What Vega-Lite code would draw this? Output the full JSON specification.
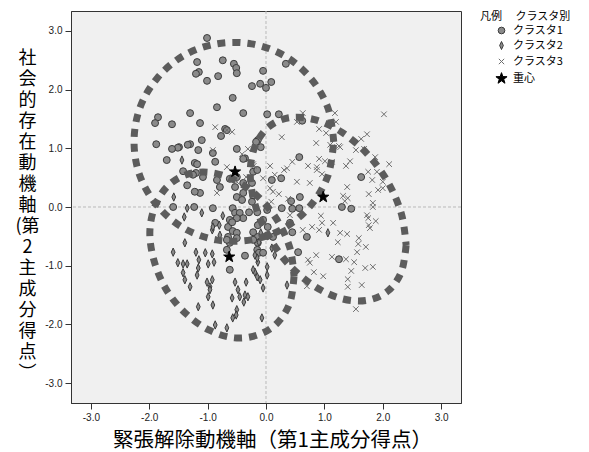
{
"$schema": "https://vega.github.io/schema/vega-lite/v6.json",
"width": 390, "height": 392,
"autosize": "none",
"padding": {"left": 71, "top": 11, "right": 128, "bottom": 49},
"background": "white",
"datasets": {
"points": [
{"c":"クラスタ1","x":-1.01,"y":2.88},{"c":"クラスタ1","x":-1.18,"y":2.47},{"c":"クラスタ1","x":-0.74,"y":2.50},{"c":"クラスタ1","x":-0.55,"y":2.44},{"c":"クラスタ1","x":-0.51,"y":2.37},{"c":"クラスタ1","x":-0.50,"y":2.28},{"c":"クラスタ1","x":-1.15,"y":2.30},{"c":"クラスタ1","x":-1.20,"y":2.27},{"c":"クラスタ1","x":-0.82,"y":2.23},{"c":"クラスタ1","x":-1.01,"y":2.15},{"c":"クラスタ1","x":-0.05,"y":2.32},{"c":"クラスタ1","x":0.34,"y":2.44},{"c":"クラスタ1","x":-0.24,"y":2.06},{"c":"クラスタ1","x":-0.10,"y":2.10},{"c":"クラスタ1","x":0.00,"y":2.03},{"c":"クラスタ1","x":0.09,"y":2.13},{"c":"クラスタ1","x":-0.57,"y":1.86},{"c":"クラスタ1","x":-0.84,"y":1.70},{"c":"クラスタ1","x":-0.39,"y":1.60},{"c":"クラスタ1","x":0.02,"y":1.58},{"c":"クラスタ1","x":0.22,"y":1.58},{"c":"クラスタ1","x":-1.30,"y":1.60},{"c":"クラスタ1","x":-1.85,"y":1.53},{"c":"クラスタ1","x":-1.90,"y":1.43},{"c":"クラスタ1","x":-1.61,"y":1.41},{"c":"クラスタ1","x":-1.13,"y":1.43},{"c":"クラスタ1","x":-0.70,"y":1.33},{"c":"クラスタ1","x":-0.67,"y":1.31},{"c":"クラスタ1","x":-0.77,"y":1.21},{"c":"クラスタ1","x":-1.10,"y":1.14},{"c":"クラスタ1","x":-1.30,"y":1.07},{"c":"クラスタ1","x":-1.34,"y":1.06},{"c":"クラスタ1","x":-1.49,"y":1.02},{"c":"クラスタ1","x":-1.51,"y":1.01},{"c":"クラスタ1","x":-1.61,"y":0.99},{"c":"クラスタ1","x":-1.16,"y":0.97},{"c":"クラスタ1","x":-1.88,"y":1.07},{"c":"クラスタ1","x":-0.50,"y":0.99},{"c":"クラスタ1","x":-0.14,"y":1.14},{"c":"クラスタ1","x":-0.09,"y":1.02},{"c":"クラスタ1","x":0.62,"y":1.47},{"c":"クラスタ1","x":0.57,"y":0.85},{"c":"クラスタ1","x":-0.36,"y":0.83},{"c":"クラスタ1","x":-1.70,"y":0.80},{"c":"クラスタ1","x":-1.42,"y":0.61},{"c":"クラスタ1","x":-1.22,"y":0.75},{"c":"クラスタ1","x":-1.18,"y":0.73},{"c":"クラスタ1","x":-0.87,"y":0.77},{"c":"クラスタ1","x":-1.20,"y":0.58},{"c":"クラスタ1","x":-1.08,"y":0.51},{"c":"クラスタ1","x":-0.84,"y":0.46},{"c":"クラスタ1","x":-0.79,"y":0.34},{"c":"クラスタ1","x":-1.13,"y":0.24},{"c":"クラスタ1","x":-0.53,"y":0.34},{"c":"クラスタ1","x":-0.39,"y":0.41},{"c":"クラスタ1","x":-0.24,"y":0.41},{"c":"クラスタ1","x":-0.50,"y":0.17},{"c":"クラスタ1","x":-0.41,"y":0.12},{"c":"クラスタ1","x":-0.24,"y":0.09},{"c":"クラスタ1","x":-0.22,"y":0.20},{"c":"クラスタ1","x":-0.91,"y":0.92},{"c":"クラスタ1","x":-0.17,"y":1.11},{"c":"クラスタ1","x":-1.59,"y":0.00},{"c":"クラスタ1","x":-1.23,"y":0.00},{"c":"クラスタ1","x":-0.91,"y":-0.02},{"c":"クラスタ1","x":-0.57,"y":-0.02},{"c":"クラスタ1","x":-1.25,"y":0.55},{"c":"クラスタ1","x":-1.35,"y":0.37},{"c":"クラスタ1","x":-1.22,"y":0.26},{"c":"クラスタ1","x":-0.62,"y":0.48},{"c":"クラスタ1","x":-0.50,"y":0.51},{"c":"クラスタ1","x":-0.22,"y":0.60},{"c":"クラスタ1","x":-0.15,"y":0.63},{"c":"クラスタ1","x":-0.39,"y":0.24},{"c":"クラスタ1","x":-0.53,"y":-0.10},{"c":"クラスタ1","x":-0.45,"y":-0.10},{"c":"クラスタ1","x":-0.29,"y":-0.09},{"c":"クラスタ1","x":-0.15,"y":-0.09},{"c":"クラスタ1","x":0.02,"y":-0.05},{"c":"クラスタ1","x":-0.62,"y":-0.22},{"c":"クラスタ1","x":-0.65,"y":-0.34},{"c":"クラスタ1","x":-0.57,"y":-0.41},{"c":"クラスタ1","x":-0.50,"y":-0.44},{"c":"クラスタ1","x":-0.65,"y":-0.51},{"c":"クラスタ1","x":-0.62,"y":-0.61},{"c":"クラスタ1","x":-0.67,"y":-0.73},{"c":"クラスタ1","x":-0.36,"y":-0.83},{"c":"クラスタ1","x":-0.62,"y":-1.07},{"c":"クラスタ1","x":-0.15,"y":-0.51},{"c":"クラスタ1","x":-0.14,"y":-0.61},{"c":"クラスタ1","x":-0.15,"y":-0.73},{"c":"クラスタ1","x":-0.12,"y":-0.78},{"c":"クラスタ1","x":-0.05,"y":-0.78},{"c":"クラスタ1","x":0.03,"y":-0.49},{"c":"クラスタ1","x":0.12,"y":-0.51},{"c":"クラスタ1","x":0.27,"y":-0.02},{"c":"クラスタ1","x":0.45,"y":-0.03},{"c":"クラスタ1","x":0.41,"y":-0.27},{"c":"クラスタ1","x":0.45,"y":-0.43},{"c":"クラスタ1","x":0.55,"y":-0.77},{"c":"クラスタ1","x":0.58,"y":0.17},{"c":"クラスタ1","x":0.03,"y":-0.34},{"c":"クラスタ1","x":-0.10,"y":-0.27},{"c":"クラスタ1","x":-0.87,"y":-0.27},{"c":"クラスタ1","x":-0.39,"y":-0.19},{"c":"クラスタ1","x":-0.50,"y":-0.19},{"c":"クラスタ1","x":-0.58,"y":-0.26},{"c":"クラスタ1","x":-0.05,"y":-0.22},{"c":"クラスタ1","x":-0.22,"y":-0.43},{"c":"クラスタ1","x":-0.67,"y":-0.56},{"c":"クラスタ1","x":-0.50,"y":-0.53},{"c":"クラスタ1","x":-0.22,"y":-0.56},{"c":"クラスタ1","x":-0.14,"y":-0.31},{"c":"クラスタ1","x":0.10,"y":0.46},{"c":"クラスタ1","x":0.26,"y":0.49},{"c":"クラスタ1","x":0.43,"y":0.10},{"c":"クラスタ1","x":0.57,"y":-0.02},{"c":"クラスタ1","x":1.30,"y":0.00},{"c":"クラスタ1","x":1.46,"y":-0.03},{"c":"クラスタ1","x":1.63,"y":0.51},{"c":"クラスタ1","x":0.70,"y":-0.51},{"c":"クラスタ1","x":1.25,"y":-0.89},{"c":"クラスタ1","x":-0.39,"y":0.82},
{"c":"クラスタ2","x":-1.44,"y":0.80},{"c":"クラスタ2","x":-1.58,"y":0.17},{"c":"クラスタ2","x":-1.35,"y":-0.02},{"c":"クラスタ2","x":-1.10,"y":-0.10},{"c":"クラスタ2","x":-1.40,"y":-0.17},{"c":"クラスタ2","x":-0.74,"y":-0.15},{"c":"クラスタ2","x":-0.80,"y":-0.31},{"c":"クラスタ2","x":-0.92,"y":-0.39},{"c":"クラスタ2","x":-0.79,"y":-0.48},{"c":"クラスタ2","x":-1.39,"y":-0.61},{"c":"クラスタ2","x":-1.59,"y":-0.77},{"c":"クラスタ2","x":-1.20,"y":-0.77},{"c":"クラスタ2","x":-1.04,"y":-0.78},{"c":"クラスタ2","x":-0.92,"y":-0.80},{"c":"クラスタ2","x":-1.51,"y":-0.95},{"c":"クラスタ2","x":-1.42,"y":-0.97},{"c":"クラスタ2","x":-1.35,"y":-0.97},{"c":"クラスタ2","x":-1.15,"y":-0.90},{"c":"クラスタ2","x":-0.99,"y":-0.97},{"c":"クラスタ2","x":-0.89,"y":-0.94},{"c":"クラスタ2","x":-1.16,"y":-1.04},{"c":"クラスタ2","x":-1.18,"y":-1.16},{"c":"クラスタ2","x":-1.39,"y":-1.24},{"c":"クラスタ2","x":-1.42,"y":-1.12},{"c":"クラスタ2","x":-1.30,"y":-1.36},{"c":"クラスタ2","x":-1.01,"y":-1.28},{"c":"クラスタ2","x":-0.96,"y":-1.36},{"c":"クラスタ2","x":-0.92,"y":-1.24},{"c":"クラスタ2","x":-0.99,"y":-1.53},{"c":"クラスタ2","x":-0.96,"y":-1.41},{"c":"クラスタ2","x":-0.91,"y":-1.67},{"c":"クラスタ2","x":-1.16,"y":-1.70},{"c":"クラスタ2","x":-0.53,"y":-1.28},{"c":"クラスタ2","x":-0.48,"y":-1.41},{"c":"クラスタ2","x":-0.34,"y":-1.28},{"c":"クラスタ2","x":-0.45,"y":-1.53},{"c":"クラスタ2","x":-0.36,"y":-1.50},{"c":"クラスタ2","x":-0.31,"y":-1.53},{"c":"クラスタ2","x":-0.58,"y":-1.55},{"c":"クラスタ2","x":-0.38,"y":-1.62},{"c":"クラスタ2","x":-0.50,"y":-1.75},{"c":"クラスタ2","x":-0.51,"y":-1.84},{"c":"クラスタ2","x":-0.57,"y":-1.89},{"c":"クラスタ2","x":-0.87,"y":-2.01},{"c":"クラスタ2","x":-0.67,"y":-2.06},{"c":"クラスタ2","x":-0.07,"y":-1.89},{"c":"クラスタ2","x":-0.19,"y":-1.11},{"c":"クラスタ2","x":-0.15,"y":-1.19},{"c":"クラスタ2","x":-0.10,"y":-1.24},{"c":"クラスタ2","x":-0.05,"y":-1.38},{"c":"クラスタ2","x":0.02,"y":-1.16},{"c":"クラスタ2","x":0.02,"y":-1.02},{"c":"クラスタ2","x":-0.14,"y":-0.94},{"c":"クラスタ2","x":-0.15,"y":-0.87},{"c":"クラスタ2","x":-0.19,"y":-0.82},{"c":"クラスタ2","x":0.36,"y":-1.33},{"c":"クラスタ2","x":0.15,"y":-0.82},{"c":"クラスタ2","x":-0.22,"y":-1.07},{"c":"クラスタ2","x":0.10,"y":-0.70},{"c":"クラスタ2","x":-0.09,"y":-0.44},{"c":"クラスタ2","x":-0.12,"y":-0.60},{"c":"クラスタ2","x":1.06,"y":-0.44},{"c":"クラスタ2","x":-0.91,"y":-0.34},
{"c":"クラスタ3","x":0.63,"y":1.60},{"c":"クラスタ3","x":0.53,"y":1.45},{"c":"クラスタ3","x":1.18,"y":1.60},{"c":"クラスタ3","x":1.20,"y":1.45},{"c":"クラスタ3","x":2.02,"y":1.58},{"c":"クラスタ3","x":-0.87,"y":1.36},{"c":"クラスタ3","x":-0.58,"y":1.28},{"c":"クラスタ3","x":-0.67,"y":1.31},{"c":"クラスタ3","x":0.91,"y":1.33},{"c":"クラスタ3","x":1.03,"y":1.26},{"c":"クラスタ3","x":0.27,"y":1.19},{"c":"クラスタ3","x":0.86,"y":1.09},{"c":"クラスタ3","x":1.73,"y":1.24},{"c":"クラスタ3","x":1.63,"y":1.16},{"c":"クラスタ3","x":1.54,"y":0.97},{"c":"クラスタ3","x":1.68,"y":0.99},{"c":"クラスタ3","x":1.27,"y":1.02},{"c":"クラスタ3","x":1.13,"y":1.02},{"c":"クラスタ3","x":-0.91,"y":0.97},{"c":"クラスタ3","x":-0.31,"y":0.99},{"c":"クラスタ3","x":-0.41,"y":0.90},{"c":"クラスタ3","x":-0.21,"y":0.70},{"c":"クラスタ3","x":0.07,"y":0.70},{"c":"クラスタ3","x":0.45,"y":0.77},{"c":"クラスタ3","x":0.72,"y":0.70},{"c":"クラスタ3","x":0.87,"y":0.68},{"c":"クラスタ3","x":0.91,"y":0.82},{"c":"クラスタ3","x":1.01,"y":0.78},{"c":"クラスタ3","x":1.13,"y":0.77},{"c":"クラスタ3","x":1.37,"y":0.70},{"c":"クラスタ3","x":1.44,"y":0.78},{"c":"クラスタ3","x":1.87,"y":0.85},{"c":"クラスタ3","x":2.11,"y":0.73},{"c":"クラスタ3","x":1.75,"y":0.60},{"c":"クラスタ3","x":1.90,"y":0.60},{"c":"クラスタ3","x":1.82,"y":0.46},{"c":"クラスタ3","x":2.00,"y":0.43},{"c":"クラスタ3","x":2.00,"y":0.32},{"c":"クラスタ3","x":1.39,"y":0.34},{"c":"クラスタ3","x":0.31,"y":0.63},{"c":"クラスタ3","x":0.15,"y":0.55},{"c":"クラスタ3","x":-0.05,"y":0.49},{"c":"クラスタ3","x":0.07,"y":0.32},{"c":"クラスタ3","x":0.12,"y":0.26},{"c":"クラスタ3","x":0.22,"y":0.22},{"c":"クラスタ3","x":0.53,"y":0.43},{"c":"クラスタ3","x":0.75,"y":0.41},{"c":"クラスタ3","x":0.87,"y":0.63},{"c":"クラスタ3","x":0.96,"y":0.56},{"c":"クラスタ3","x":0.38,"y":0.14},{"c":"クラスタ3","x":1.32,"y":0.19},{"c":"クラスタ3","x":1.40,"y":0.15},{"c":"クラスタ3","x":1.35,"y":0.10},{"c":"クラスタ3","x":1.83,"y":0.07},{"c":"クラスタ3","x":1.83,"y":0.00},{"c":"クラスタ3","x":1.73,"y":-0.14},{"c":"クラスタ3","x":1.76,"y":-0.31},{"c":"クラスタ3","x":0.94,"y":-0.15},{"c":"クラスタ3","x":1.15,"y":-0.27},{"c":"クラスタ3","x":0.79,"y":-0.34},{"c":"クラスタ3","x":0.41,"y":-0.14},{"c":"クラスタ3","x":1.76,"y":0.22},{"c":"クラスタ3","x":1.92,"y":0.29},{"c":"クラスタ3","x":1.75,"y":-0.19},{"c":"クラスタ3","x":1.88,"y":-0.24},{"c":"クラスタ3","x":0.96,"y":-0.27},{"c":"クラスタ3","x":0.63,"y":-0.39},{"c":"クラスタ3","x":0.91,"y":-0.39},{"c":"クラスタ3","x":1.78,"y":-0.36},{"c":"クラスタ3","x":1.27,"y":-0.44},{"c":"クラスタ3","x":1.39,"y":-0.46},{"c":"クラスタ3","x":1.59,"y":-0.53},{"c":"クラスタ3","x":1.23,"y":-0.60},{"c":"クラスタ3","x":1.58,"y":-0.63},{"c":"クラスタ3","x":1.71,"y":-0.68},{"c":"クラスタ3","x":1.56,"y":-0.77},{"c":"クラスタ3","x":0.86,"y":-0.82},{"c":"クラスタ3","x":1.13,"y":-0.85},{"c":"クラスタ3","x":1.37,"y":-0.89},{"c":"クラスタ3","x":1.51,"y":-0.94},{"c":"クラスタ3","x":0.72,"y":-0.90},{"c":"クラスタ3","x":0.75,"y":-0.95},{"c":"クラスタ3","x":1.46,"y":-1.09},{"c":"クラスタ3","x":1.70,"y":-1.04},{"c":"クラスタ3","x":1.83,"y":-1.02},{"c":"クラスタ3","x":0.82,"y":-1.11},{"c":"クラスタ3","x":0.98,"y":-1.18},{"c":"クラスタ3","x":1.40,"y":-1.23},{"c":"クラスタ3","x":1.64,"y":-1.33},{"c":"クラスタ3","x":0.70,"y":-1.35},{"c":"クラスタ3","x":1.40,"y":-1.36},{"c":"クラスタ3","x":1.54,"y":-1.74},{"c":"クラスタ3","x":0.09,"y":0.09},{"c":"クラスタ3","x":-0.22,"y":0.73},{"c":"クラスタ3","x":-0.34,"y":0.51},{"c":"クラスタ3","x":-0.50,"y":0.43},{"c":"クラスタ3","x":-0.84,"y":0.24},{"c":"クラスタ3","x":-0.67,"y":0.68},{"c":"クラスタ3","x":0.36,"y":0.66},{"c":"クラスタ3","x":1.10,"y":1.06},{"c":"クラスタ3","x":1.25,"y":1.04}
],
"centroids": [
{"c":"重心","x":-0.53,"y":0.60},{"c":"重心","x":-0.63,"y":-0.85},{"c":"重心","x":0.98,"y":0.17}
],
"ell1": [
{"i":0,"x":1.16,"y":1.11},{"i":1,"x":1.06,"y":1.69},{"i":2,"x":0.76,"y":2.20},{"i":3,"x":0.31,"y":2.58},{"i":4,"x":-0.25,"y":2.78},{"i":5,"x":-0.85,"y":2.78},{"i":6,"x":-1.41,"y":2.58},{"i":7,"x":-1.86,"y":2.20},{"i":8,"x":-2.16,"y":1.69},{"i":9,"x":-2.26,"y":1.11},{"i":10,"x":-2.16,"y":0.53},{"i":11,"x":-1.86,"y":0.02},{"i":12,"x":-1.41,"y":-0.36},{"i":13,"x":-0.85,"y":-0.56},{"i":14,"x":-0.25,"y":-0.56},{"i":15,"x":0.31,"y":-0.36},{"i":16,"x":0.76,"y":0.02},{"i":17,"x":1.06,"y":0.53},{"i":18,"x":1.16,"y":1.11}
],
"ell2": [
{"i":0,"x":0.48,"y":-1.18},{"i":1,"x":0.41,"y":-1.63},{"i":2,"x":0.19,"y":-1.98},{"i":3,"x":-0.14,"y":-2.18},{"i":4,"x":-0.54,"y":-2.23},{"i":5,"x":-0.97,"y":-2.10},{"i":6,"x":-1.37,"y":-1.82},{"i":7,"x":-1.70,"y":-1.42},{"i":8,"x":-1.91,"y":-0.94},{"i":9,"x":-1.99,"y":-0.45},{"i":10,"x":-1.91,"y":-0.01},{"i":11,"x":-1.70,"y":0.34},{"i":12,"x":-1.37,"y":0.55},{"i":13,"x":-0.97,"y":0.59},{"i":14,"x":-0.54,"y":0.46},{"i":15,"x":-0.14,"y":0.18},{"i":16,"x":0.19,"y":-0.22},{"i":17,"x":0.41,"y":-0.70},{"i":18,"x":0.48,"y":-1.18}
],
"ell3": [
{"i":0,"x":2.40,"y":-0.65},{"i":1,"x":2.32,"y":-1.10},{"i":2,"x":2.09,"y":-1.43},{"i":3,"x":1.73,"y":-1.59},{"i":4,"x":1.29,"y":-1.56},{"i":5,"x":0.83,"y":-1.35},{"i":6,"x":0.39,"y":-0.98},{"i":7,"x":0.04,"y":-0.49},{"i":8,"x":-0.19,"y":0.05},{"i":9,"x":-0.27,"y":0.58},{"i":10,"x":-0.19,"y":1.03},{"i":11,"x":0.04,"y":1.36},{"i":12,"x":0.39,"y":1.52},{"i":13,"x":0.83,"y":1.49},{"i":14,"x":1.29,"y":1.28},{"i":15,"x":1.73,"y":0.91},{"i":16,"x":2.09,"y":0.42},{"i":17,"x":2.32,"y":-0.12},{"i":18,"x":2.40,"y":-0.65}
],
"zero": [{"v": 0}]
},
"layer": [
{"data": {"name": "zero"},
 "mark": {"type": "rule", "stroke": "#b9b9b9", "strokeDash": [3, 2], "strokeWidth": 1},
 "encoding": {"x": {"field": "v", "type": "quantitative", "scale": {"domain": [-3.34, 3.34], "nice": false, "zero": false}, "axis": {"title": "緊張解除動機軸（第1主成分得点）", "orient": "bottom"}}}},
{"data": {"name": "zero"},
 "mark": {"type": "rule", "stroke": "#b9b9b9", "strokeDash": [3, 2], "strokeWidth": 1},
 "encoding": {"y": {"field": "v", "type": "quantitative", "scale": {"domain": [-3.34, 3.34], "nice": false, "zero": false}, "axis": {"title": ["社","会","的","存","在","動","機","軸","(第","2","主","成","分","得","点","︶"], "orient": "left"}}}},
{"data": {"name": "points"},
 "mark": {"type": "point", "opacity": 1, "strokeWidth": 1, "size": 48},
 "encoding": {
  "x": {"field": "x", "type": "quantitative", "scale": {"domain": [-3.34, 3.34], "nice": false, "zero": false}, "axis": {"title": "緊張解除動機軸（第1主成分得点）", "orient": "bottom"}},
  "y": {"field": "y", "type": "quantitative", "scale": {"domain": [-3.34, 3.34], "nice": false, "zero": false}, "axis": {"title": ["社","会","的","存","在","動","機","軸","(第","2","主","成","分","得","点","︶"], "orient": "left"}},
  "shape": {"field": "c", "type": "nominal", "scale": {"domain": ["クラスタ1","クラスタ2","クラスタ3","重心"], "range": ["circle", "M0,-1.2L0.55,0L0,1.2L-0.55,0Z", "M-0.8,-0.8L0.8,0.8M-0.8,0.8L0.8,-0.8", "M0,-1.75L0.41,-0.57L1.66,-0.54L0.67,0.22L1.03,1.42L0,0.7L-1.03,1.42L-0.67,0.22L-1.66,-0.54L-0.41,-0.57Z"]}, "legend": {"title": "凡例　 クラスタ別"}},
  "fill": {"field": "c", "type": "nominal", "scale": {"domain": ["クラスタ1","クラスタ2","クラスタ3","重心"], "range": ["#8a8a8a", "#8a8a8a", "#777777", "#000000"]}, "legend": {"title": "凡例　 クラスタ別"}},
  "stroke": {"field": "c", "type": "nominal", "scale": {"domain": ["クラスタ1","クラスタ2","クラスタ3","重心"], "range": ["#3c3c3c", "#3c3c3c", "#6e6e6e", "#000000"]}, "legend": {"title": "凡例　 クラスタ別"}}
 }},
{"data": {"name": "ell1"},
 "mark": {"type": "line", "interpolate": "cardinal", "stroke": "#5c5c5c", "strokeWidth": 7, "strokeDash": [8, 7]},
 "encoding": {
  "x": {"field": "x", "type": "quantitative", "scale": {"domain": [-3.34, 3.34], "nice": false, "zero": false}, "axis": {"title": "緊張解除動機軸（第1主成分得点）", "orient": "bottom"}},
  "y": {"field": "y", "type": "quantitative", "scale": {"domain": [-3.34, 3.34], "nice": false, "zero": false}, "axis": {"title": ["社","会","的","存","在","動","機","軸","(第","2","主","成","分","得","点","︶"], "orient": "left"}},
  "order": {"field": "i", "type": "quantitative"}
 }},
{"data": {"name": "ell2"},
 "mark": {"type": "line", "interpolate": "cardinal", "stroke": "#5c5c5c", "strokeWidth": 7, "strokeDash": [8, 7]},
 "encoding": {
  "x": {"field": "x", "type": "quantitative", "scale": {"domain": [-3.34, 3.34], "nice": false, "zero": false}, "axis": {"title": "緊張解除動機軸（第1主成分得点）", "orient": "bottom"}},
  "y": {"field": "y", "type": "quantitative", "scale": {"domain": [-3.34, 3.34], "nice": false, "zero": false}, "axis": {"title": ["社","会","的","存","在","動","機","軸","(第","2","主","成","分","得","点","︶"], "orient": "left"}},
  "order": {"field": "i", "type": "quantitative"}
 }},
{"data": {"name": "ell3"},
 "mark": {"type": "line", "interpolate": "cardinal", "stroke": "#5c5c5c", "strokeWidth": 7, "strokeDash": [8, 7]},
 "encoding": {
  "x": {"field": "x", "type": "quantitative", "scale": {"domain": [-3.34, 3.34], "nice": false, "zero": false}, "axis": {"title": "緊張解除動機軸（第1主成分得点）", "orient": "bottom"}},
  "y": {"field": "y", "type": "quantitative", "scale": {"domain": [-3.34, 3.34], "nice": false, "zero": false}, "axis": {"title": ["社","会","的","存","在","動","機","軸","(第","2","主","成","分","得","点","︶"], "orient": "left"}},
  "order": {"field": "i", "type": "quantitative"}
 }},
{"data": {"name": "centroids"},
 "mark": {"type": "point", "opacity": 1, "strokeWidth": 1, "shape": "M0,-1.75L0.41,-0.57L1.66,-0.54L0.67,0.22L1.03,1.42L0,0.7L-1.03,1.42L-0.67,0.22L-1.66,-0.54L-0.41,-0.57Z", "fill": "#000000", "stroke": "#000000", "size": 45},
 "encoding": {
  "x": {"field": "x", "type": "quantitative", "scale": {"domain": [-3.34, 3.34], "nice": false, "zero": false}, "axis": {"title": "緊張解除動機軸（第1主成分得点）", "orient": "bottom"}},
  "y": {"field": "y", "type": "quantitative", "scale": {"domain": [-3.34, 3.34], "nice": false, "zero": false}, "axis": {"title": ["社","会","的","存","在","動","機","軸","(第","2","主","成","分","得","点","︶"], "orient": "left"}}
 }}
],
"config": {
 "view": {"fill": "#f0f0f0", "stroke": "#333333", "strokeWidth": 1},
 "axis": {"grid": false, "tickCount": 7, "tickSize": 6, "tickColor": "#333333", "domainColor": "#333333", "labelFont": "Liberation Sans", "labelFontSize": 10, "labelColor": "#222222", "labelPadding": 3, "titleFont": "Noto Sans CJK JP", "titleFontWeight": "normal", "titleColor": "#000000", "labelExpr": "replace(format(datum.value, '.1f'), '\u2212', '-')"},
 "axisX": {"titleFontSize": 20.5, "titleX": 201, "titleY": 37, "titleAlign": "center", "titleBaseline": "middle"},
 "axisY": {"titleFontSize": 18, "titleAngle": 0, "titleX": -44, "titleY": 38, "titleAlign": "center", "titleBaseline": "top", "titleLineHeight": 21},
 "legend": {"orient": "right", "offset": 19, "titleFont": "Noto Sans CJK JP", "titleFontSize": 11, "titleFontWeight": "normal", "titleColor": "#000000", "labelFont": "Noto Sans CJK JP", "labelFontSize": 11, "labelColor": "#000000", "symbolSize": 45, "symbolOffset": 16, "labelOffset": 6, "rowPadding": 3, "titlePadding": 3, "padding": 0, "symbolStrokeWidth": 1}
}
}
